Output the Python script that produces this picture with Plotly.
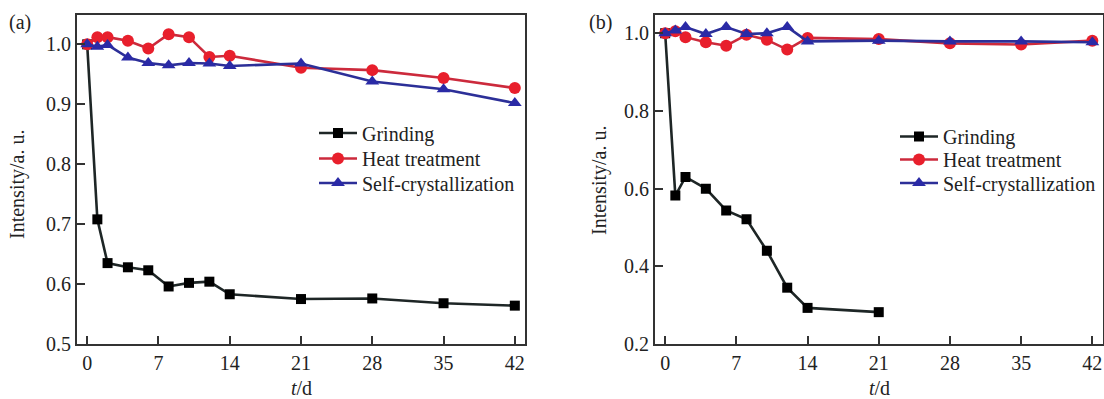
import plotly.graph_objects as go

# ---------------- data ----------------
days_a = [0, 1, 2, 4, 6, 8, 10, 12, 14, 21, 28, 35, 42]
grind_a = [1.0, 0.708, 0.635, 0.628, 0.623, 0.596, 0.602, 0.604, 0.583, 0.575, 0.576, 0.568, 0.564]
heat_a = [1.0, 1.012, 1.012, 1.006, 0.993, 1.017, 1.012, 0.979, 0.981, 0.961, 0.957, 0.944, 0.927]
self_a = [1.0, 0.996, 0.999, 0.978, 0.969, 0.965, 0.969, 0.968, 0.964, 0.968, 0.938, 0.925, 0.902]

days_b_grind = [0, 1, 2, 4, 6, 8, 10, 12, 14, 21]
grind_b = [1.0, 0.582, 0.630, 0.600, 0.544, 0.521, 0.440, 0.345, 0.293, 0.282]
days_b = [0, 1, 2, 4, 6, 8, 10, 12, 14, 21, 28, 35, 42]
heat_b = [1.0, 1.005, 0.990, 0.977, 0.968, 0.996, 0.983, 0.958, 0.988, 0.985, 0.974, 0.971, 0.981]
self_b = [1.0, 1.007, 1.016, 0.998, 1.016, 0.998, 1.0, 1.016, 0.979, 0.981, 0.979, 0.979, 0.977]

xticks = [0, 7, 14, 21, 28, 35, 42]
yticks_a = [0.5, 0.6, 0.7, 0.8, 0.9, 1.0]
yticks_b = [0.2, 0.4, 0.6, 0.8, 1.0]
series_names = ["Grinding", "Heat treatment", "Self-crystallization"]

# ---------------- style ----------------
W, H = 1104, 399
FONT = "Liberation Serif, Times New Roman, DejaVu Serif, serif"
BLACK_L, BLACK_M = "#1e2626", "#000000"
RED_L, RED_M = "#cc2a3c", "#e81f2c"
BLUE_L, BLUE_M = "#2c2f98", "#2a2aa6"


def px_x(p):
    return p / W


def px_y(p):
    return 1 - p / H


fig = go.Figure()


def add_series(x, y, name, lc, mc, sym, size, xa, ya, legend):
    fig.add_trace(go.Scatter(
        x=x, y=y, name=name, mode="lines+markers",
        line=dict(color=lc, width=2.6),
        marker=dict(color=mc, symbol=sym, size=size),
        xaxis=xa, yaxis=ya, legend=legend, showlegend=True))


add_series(days_a, grind_a, series_names[0], BLACK_L, BLACK_M, "square", 10, "x", "y", "legend")
add_series(days_a, heat_a, series_names[1], RED_L, RED_M, "circle", 12, "x", "y", "legend2")
add_series(days_a, self_a, series_names[2], BLUE_L, BLUE_M, "triangle-up", 12, "x", "y", "legend3")

add_series(days_b_grind, grind_b, series_names[0], BLACK_L, BLACK_M, "square", 10, "x2", "y2", "legend4")
add_series(days_b, heat_b, series_names[1], RED_L, RED_M, "circle", 12, "x2", "y2", "legend5")
add_series(days_b, self_b, series_names[2], BLUE_L, BLUE_M, "triangle-up", 12, "x2", "y2", "legend6")

axis_common = dict(
    showgrid=False, zeroline=False, showline=True, mirror=True, automargin=False,
    linecolor="#333333", linewidth=2,
    ticks="inside", ticklen=8, tickwidth=1.6, tickcolor="#333333",
    tickfont=dict(family=FONT, size=20, color="#222222"),
)

dom_top, dom_bot = px_y(15), px_y(344)
LEG_FONT = dict(family=FONT, size=20, color="#222222")


def leg(xpx, ypx):
    return dict(x=px_x(xpx), y=px_y(ypx), xanchor="left", yanchor="middle",
                bgcolor="rgba(0,0,0,0)", borderwidth=0, font=LEG_FONT,
                itemwidth=38)


fig.update_layout(
    template="none",
    width=W, height=H,
    margin=dict(l=0, r=0, t=0, b=0, autoexpand=False),
    paper_bgcolor="white", plot_bgcolor="white",
    font=dict(family=FONT, size=20, color="#222222"),
    xaxis=dict(domain=[px_x(77), px_x(525)], range=[-1, 43], tickvals=xticks,
               anchor="y", **axis_common),
    yaxis=dict(domain=[dom_bot, dom_top], range=[0.5, 1.049], tickvals=yticks_a,
               tickformat=".1f", anchor="x", **axis_common),
    xaxis2=dict(domain=[px_x(655), px_x(1102.5)], range=[-1, 43], tickvals=xticks,
                anchor="y2", **axis_common),
    yaxis2=dict(domain=[dom_bot, dom_top], range=[0.2, 1.047], tickvals=yticks_b,
                tickformat=".1f", anchor="x2", **axis_common),
    legend=leg(314, 133),
    legend2=leg(314, 158.5),
    legend3=leg(314, 183),
    legend4=leg(895, 136.5),
    legend5=leg(895, 159.5),
    legend6=leg(895, 183),
)

ann_font = dict(family=FONT, size=20, color="#222222")
annotations = [
    dict(text="(a)", x=px_x(20), y=px_y(22)),
    dict(text="(b)", x=px_x(600), y=px_y(22)),
    dict(text="<i>t</i>/d", x=px_x(301), y=px_y(388)),
    dict(text="<i>t</i>/d", x=px_x(879), y=px_y(388)),
    dict(text="Intensity/a. u.", x=px_x(18), y=px_y(185), textangle=-90),
    dict(text="Intensity/a. u.", x=px_x(600), y=px_y(181), textangle=-90),
]
for a in annotations:
    fig.add_annotation(xref="paper", yref="paper", showarrow=False,
                       xanchor="center", yanchor="middle", font=ann_font, **a)

fig.write_html("out.html")
